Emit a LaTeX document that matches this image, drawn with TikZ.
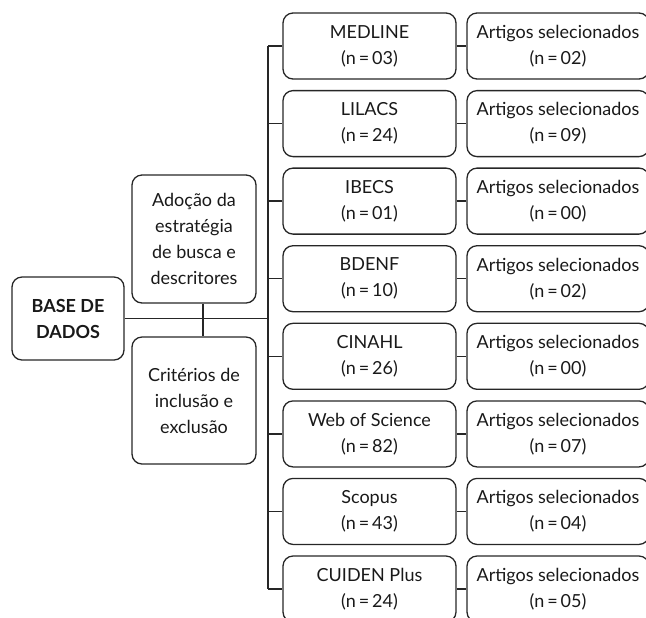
\documentclass[tikz,border=0pt]{standalone}
\usepackage{fontspec}
\setmainfont{Lato}
\usetikzlibrary{positioning,calc}

\begin{document}
\begin{tikzpicture}[x=0.5pt, y=-0.5pt, line width=0.65pt,
    box/.style={draw=black!85, rounded corners=5pt, align=center,
        inner sep=0pt, text=black!90, font=\fontsize{9}{13}\selectfont},
    basebox/.style={box, minimum width=86.5pt, minimum height=33pt},
    selbox/.style={box, minimum width=91pt, minimum height=33pt}]

        \useasboundingbox (0,0) rectangle (646,617);
        \clip (0,0) rectangle (646,617);

        %database
        \node[box, minimum width=56pt, minimum height=41.5pt] (BD) at (68,318.5)
            {\textbf{BASE DE}\\\textbf{DADOS}};

        %strategy and criteria
        \node[box, minimum width=62pt, minimum height=64pt] (adocao) at (194,239)
            {Adoção da\\estratégia\\de busca e\\descritores};
        \node[box, minimum width=62pt, minimum height=63.5pt] (criterios) at (194,400.5)
            {Critérios de\\inclusão e\\exclusão};

        %sources
        \node[basebox] (med) at (369.5,46) {MEDLINE\\(n\,=\,03)};
        \node[basebox] (lil) at (369.5,123.6) {LILACS\\(n\,=\,24)};
        \node[basebox] (ibe) at (369.5,201.1) {IBECS\\(n\,=\,01)};
        \node[basebox] (bde) at (369.5,278.7) {BDENF\\(n\,=\,10)};
        \node[basebox] (cin) at (369.5,356.3) {CINAHL\\(n\,=\,26)};
        \node[basebox] (wos) at (369.5,433.9) {Web of Science\\(n\,=\,82)};
        \node[basebox] (sco) at (369.5,511.4) {Scopus\\(n\,=\,43)};
        \node[basebox] (cui) at (369.5,589) {CUIDEN Plus\\(n\,=\,24)};

        %selected
        \node[selbox] (smed) at (558,46) {Artigos selecionados\\(n\,=\,02)};
        \node[selbox] (slil) at (558,123.6) {Artigos selecionados\\(n\,=\,09)};
        \node[selbox] (sibe) at (558,201.1) {Artigos selecionados\\(n\,=\,00)};
        \node[selbox] (sbde) at (558,278.7) {Artigos selecionados\\(n\,=\,02)};
        \node[selbox] (scin) at (558,356.3) {Artigos selecionados\\(n\,=\,00)};
        \node[selbox] (swos) at (558,433.9) {Artigos selecionados\\(n\,=\,07)};
        \node[selbox] (ssco) at (558,511.4) {Artigos selecionados\\(n\,=\,04)};
        \node[selbox] (scui) at (558,589) {Artigos selecionados\\(n\,=\,05)};

        \coordinate (T) at (268,318.5);
        \coordinate (M) at (203,318.5);

        \draw[draw=black!85]
            (BD.east) -- (T)
            (adocao.south -| M) -- (criterios.north -| M)
            (med.west -| T) -- (cui.west -| T)
            (med.west -| T) -- (med.west)
            (lil.west -| T) -- (lil.west)
            (ibe.west -| T) -- (ibe.west)
            (bde.west -| T) -- (bde.west)
            (cin.west -| T) -- (cin.west)
            (wos.west -| T) -- (wos.west)
            (sco.west -| T) -- (sco.west)
            (cui.west -| T) -- (cui.west)
            (med) -- (smed)
            (lil) -- (slil)
            (ibe) -- (sibe)
            (bde) -- (sbde)
            (cin) -- (scin)
            (wos) -- (swos)
            (sco) -- (ssco)
            (cui) -- (scui);

\end{tikzpicture}
\end{document}
